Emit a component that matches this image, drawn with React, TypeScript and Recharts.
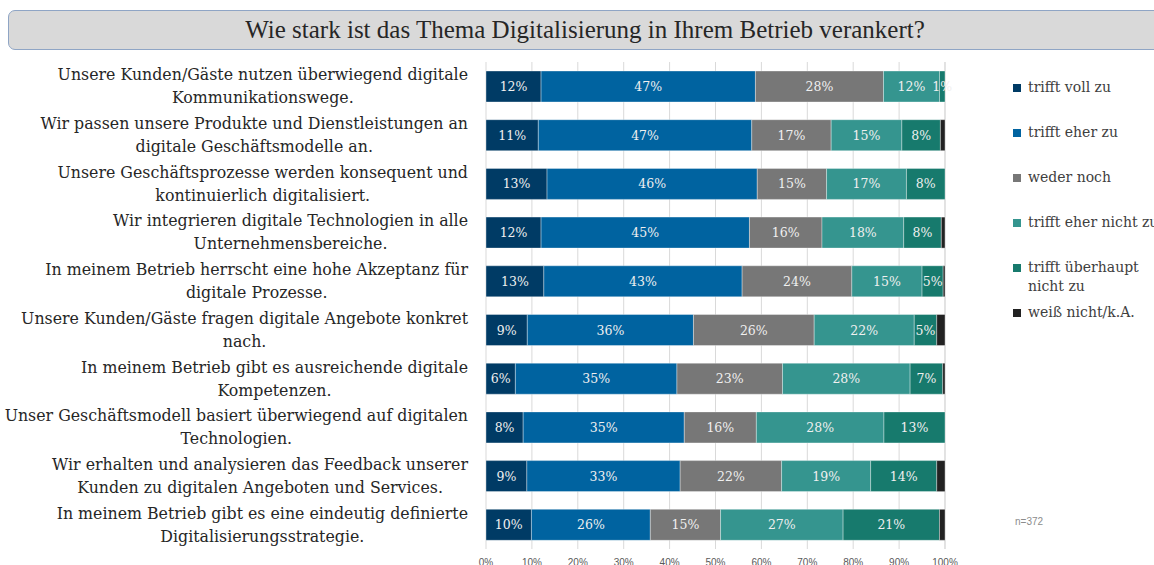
import React from 'react';
import { BarChart, Bar, XAxis, YAxis, CartesianGrid, Legend, LabelList } from 'recharts';

// Kategorien (Aussagen), Zeilenumbrüche wie im Original
const categories = [
  'Unsere Kunden/Gäste nutzen überwiegend digitale\nKommunikationswege.',
  'Wir passen unsere Produkte und Dienstleistungen an\ndigitale Geschäftsmodelle an.',
  'Unsere Geschäftsprozesse werden konsequent und\nkontinuierlich digitalisiert.',
  'Wir integrieren digitale Technologien in alle\nUnternehmensbereiche.',
  'In meinem Betrieb herrscht eine hohe Akzeptanz für\ndigitale Prozesse.',
  'Unsere Kunden/Gäste fragen digitale Angebote konkret\nnach.',
  'In meinem Betrieb gibt es ausreichende digitale\nKompetenzen.',
  'Unser Geschäftsmodell basiert überwiegend auf digitalen\nTechnologien.',
  'Wir erhalten und analysieren das Feedback unserer\nKunden zu digitalen Angeboten und Services.',
  'In meinem Betrieb gibt es eine eindeutig definierte\nDigitalisierungsstrategie.',
];

const seriesNames = [
  'trifft voll zu',
  'trifft eher zu',
  'weder noch',
  'trifft eher nicht zu',
  'trifft überhaupt\nnicht zu',
  'weiß nicht/k.A.',
];

const seriesColors = ['#003b65', '#0063a0', '#777777', '#35958f', '#177a6d', '#222222'];

// Anteile in Prozent
const trifftVollZu = [12.0, 11.4, 13.3, 12.0, 12.6, 9.0, 6.4, 8.1, 8.9, 9.9];
const trifftEherZu = [46.7, 46.5, 45.8, 45.4, 43.2, 36.2, 35.2, 35.1, 33.4, 25.9];
const wederNoch = [27.9, 17.3, 15.1, 15.8, 23.9, 26.3, 23.0, 15.7, 22.1, 15.3];
const trifftEherNicht = [12.2, 15.4, 17.4, 17.8, 15.3, 21.8, 27.8, 27.8, 19.4, 26.7];
const trifftNicht = [1.2, 8.4, 8.4, 8.2, 4.6, 4.9, 7.1, 13.3, 14.4, 21.0];
const weissNicht = [0, 1.0, 0, 0.8, 0.4, 1.8, 0.5, 0, 1.8, 1.2];

const xTicks = [0, 10, 20, 30, 40, 50, 60, 70, 80, 90, 100];

const seriesValues = [trifftVollZu, trifftEherZu, wederNoch, trifftEherNicht, trifftNicht, weissNicht];

const data = categories.map((category, i) => {
  const row: any = { category };
  seriesValues.forEach((vals, s) => {
    row['s' + s] = vals[i];
  });
  return row;
});

const serif = '"DejaVu Serif", serif';
const catFont = `15.8px ${serif}`;

let ctx: CanvasRenderingContext2D | null = null;
const measure = (txt: string) => {
  if (!ctx) ctx = document.createElement('canvas').getContext('2d');
  if (!ctx) return txt.length * 8;
  ctx.font = catFont;
  return ctx.measureText(txt).width;
};

// Beschriftung: Block rechtsbündig, Zeilen darin zentriert (wie Excel)
const CategoryTick = ({ x, y, payload }: any) => {
  const lines = String(payload.value).split('\n');
  const block = Math.max(...lines.map(measure));
  const cx = x - block / 2;
  const lh = 23;
  return (
    <g>
      {lines.map((l, i) => (
        <text
          key={i}
          x={cx}
          y={y + (i - (lines.length - 1) / 2) * lh}
          dy={5.5}
          textAnchor="middle"
          fill="#262626"
          style={{ font: catFont }}
        >
          {l}
        </text>
      ))}
    </g>
  );
};

const SegmentLabel = ({ x, y, width, height, value }: any) => {
  if (value == null || value < 1) return null;
  return (
    <text
      x={x + width / 2}
      y={y + height / 2}
      dy={4.5}
      textAnchor="middle"
      fill="#f0f0f0"
      fontSize={12.5}
      fontFamily={serif}
    >
      {Math.round(value)}%
    </text>
  );
};

const LegendBlock = ({ payload }: any) => (
  <div style={{ fontFamily: serif, fontSize: 14, color: '#404040', lineHeight: '19px' }}>
    {(payload || []).map((p: any) => (
      <div key={p.value} style={{ display: 'flex', alignItems: 'flex-start', height: 45 }}>
        <span
          style={{
            display: 'inline-block',
            width: 8,
            height: 8,
            background: p.color,
            marginTop: 6,
            marginRight: 7,
            flex: 'none',
          }}
        />
        <span style={{ whiteSpace: 'pre' }}>{p.value}</span>
      </div>
    ))}
  </div>
);

export default function App() {
  return (
    <div
      style={{
        position: 'absolute',
        left: 0,
        top: 0,
        width: 1154,
        height: 565,
        overflow: 'hidden',
        background: '#ffffff',
      }}
    >
      <div
        style={{
          position: 'absolute',
          left: 8,
          top: 10,
          width: 1170,
          height: 38,
          border: '1.5px solid #8fa5c5',
          borderRadius: 7,
          background: '#d9d9d9',
        }}
      />
      <div
        style={{
          position: 'absolute',
          left: 8,
          top: 10,
          width: 1154,
          height: 40,
          lineHeight: '40px',
          textAlign: 'center',
          fontFamily: '"Liberation Serif", serif',
          fontSize: 25,
          color: '#262626',
        }}
      >
        Wie stark ist das Thema Digitalisierung in Ihrem Betrieb verankert?
      </div>
      <div style={{ position: 'absolute', left: 0, top: 0 }}>
        <BarChart
          width={1154}
          height={565}
          data={data}
          layout="vertical"
          margin={{ top: 62, right: 209, bottom: 0, left: 0 }}
          barSize={31}
        >
          <CartesianGrid horizontal={false} stroke="#d9d9d9" />
          <XAxis
            type="number"
            domain={[0, 100]}
            ticks={xTicks}
            tickFormatter={(v: number) => `${v}%`}
            tickLine={false}
            axisLine={false}
            tickMargin={4}
            height={16}
            tick={{ fill: '#595959', fontSize: 10, fontFamily: '"Liberation Sans", sans-serif' }}
          />
          <YAxis
            type="category"
            dataKey="category"
            width={486}
            tickLine={false}
            axisLine={false}
            tickMargin={12}
            interval={0}
            tick={<CategoryTick />}
          />
          <Legend
            layout="vertical"
            align="center"
            verticalAlign="middle"
            itemSorter="dataKey"
            content={<LegendBlock />}
            wrapperStyle={{ position: 'absolute', left: 1013, top: 78, width: 160 }}
          />
          {seriesNames.map((name, s) => (
            <Bar
              key={name}
              dataKey={'s' + s}
              name={name}
              stackId="a"
              fill={seriesColors[s]}
              stroke="#ffffff"
              strokeOpacity={0.5}
              strokeWidth={0.7}
              isAnimationActive={false}
            >
              {s < 5 && <LabelList dataKey={'s' + s} content={<SegmentLabel />} />}
            </Bar>
          ))}
        </BarChart>
      </div>
      <div
        style={{
          position: 'absolute',
          left: 1015,
          top: 516,
          fontFamily: '"Liberation Sans", sans-serif',
          fontSize: 10,
          color: '#8c8c8c',
        }}
      >
        n=372
      </div>
    </div>
  );
}
